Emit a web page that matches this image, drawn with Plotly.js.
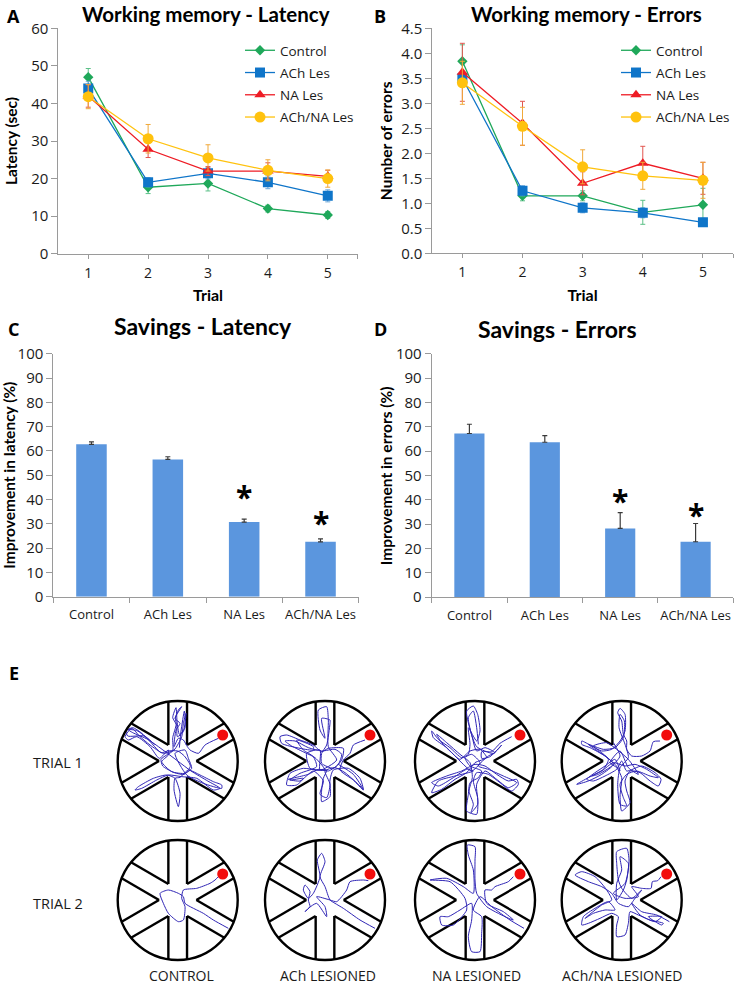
<!DOCTYPE html>
<html><head><meta charset="utf-8">
<script src="https://cdn.plot.ly/plotly-3.0.1.min.js"></script>
<style>html,body{margin:0;padding:0;background:#fff;overflow:hidden}</style></head>
<body><div id="chart" style="width:735px;height:984px"></div>
<script>
const W = 735, H = 984;
const FONT = '"Open Sans", sans-serif';
const HEAD = 'Lato, "Open Sans", sans-serif';
const trials = [1, 2, 3, 4, 5];
const groups = ['Control', 'ACh Les', 'NA Les', 'ACh/NA Les'];
const colors = ['#1fa85a', '#0f75c9', '#ee1c25', '#ffc20e'];
const errColors = ['#5cc088', '#6aa6d8', '#e2564f', '#f0a93a'];
const symbols = ['diamond', 'square', 'triangle-up', 'circle'];
const sizes = [8, 10, 10, 11];

const latControl = [47, 17.7, 18.7, 12, 10.3];
const latACh = [44, 19, 21.4, 19, 15.4];
const latNA = [42, 27.8, 22, 22, 20.6];
const latBoth = [41.8, 30.6, 25.5, 22.2, 20];
const latControlErr = [2.3, 1.7, 2, 0.9, 0.9];
const latAChErr = [1.9, 1.2, 1.5, 1.7, 1.6];
const latNAErr = [3, 2.2, 1.2, 2.2, 1.6];
const latBothErr = [3.2, 3.8, 3.5, 2.8, 2.3];

const errControl = [3.84, 1.15, 1.15, 0.82, 0.97];
const errACh = [3.5, 1.25, 0.91, 0.81, 0.62];
const errNA = [3.62, 2.6, 1.4, 1.8, 1.5];
const errBoth = [3.41, 2.54, 1.73, 1.55, 1.46];
const errControlErr = [0.33, 0.1, 0.1, 0.24, 0.33];
const errAChErr = [0.1, 0.1, 0.1, 0.1, 0.08];
const errNAErr = [0.58, 0.44, 0.23, 0.34, 0.32];
const errBothErr = [0.43, 0.38, 0.34, 0.27, 0.36];

const saveLat = [62.7, 56.5, 30.7, 22.6];
const saveLatErr = [1, 1.1, 1.2, 1.2];
const saveErr = [67.2, 63.6, 28.2, 22.7];
const saveErrErr = [3.8, 2.7, 6.5, 7.5];

// Maze geometry, in tracking units with the maze radius at 180
const mazeR = 180;
const foodXY = [135, 78];
const wallSegments = [
  [[28, 48], [28, 178]], [[28, 48], [140, 113]],
  [[56, 0], [168, 65]], [[56, 0], [168, -65]],
  [[28, -48], [28, -178]], [[28, -48], [140, -113]],
  [[-28, 48], [-28, 178]], [[-28, 48], [-140, 113]],
  [[-56, 0], [-168, 65]], [[-56, 0], [-168, -65]],
  [[-28, -48], [-28, -178]], [[-28, -48], [-140, -113]]
];

const pathCtrl1 = [[122,68],[82,48],[62,23],[37,33],[29,43],[17,63],[2,68],[-11,43],[-5,93],[7,113],[-8,128],[12,163],[2,153],[-7,128],[-3,108],[-1,73],[17,88],[25,143],[17,113],[12,73],[-11,33],[-43,23],[-83,48],[-113,73],[-138,98],[-158,73],[-148,63],[-123,73],[-83,43],[-55,8],[-28,33],[-28,18],[-48,-2],[-18,-32],[22,-37],[42,-22],[32,8],[22,33],[-8,23],[27,-42],[77,-67],[132,-82],[132,-72],[107,-62],[67,-42],[32,-27],[7,-49],[-8,-52],[-11,-87],[2,-137],[7,-97],[-8,-52],[-33,-42],[-73,-52],[-118,-77],[-128,-87],[-108,-82],[-63,-57],[-28,-42],[12,-47],[57,-52],[107,-87],[127,-82],[90,-60],[40,-30],[0,0],[-40,30],[-90,65],[-135,85],[-150,95],[-120,90],[-70,50],[-100,75],[-150,75],[-155,90],[-135,100],[-110,85],[-80,55],[-50,25],[-30,30],[0,30],[20,15],[38,-15],[20,-40],[-10,-35],[-45,-15],[-50,5],[-30,20],[-15,30],[-15,70],[-5,110],[-15,130],[-5,160],[-2,120],[5,80],[22,100],[20,150],[10,90],[5,40]];
const pathACh1 = [[120,63],[85,48],[75,23],[55,3],[45,-27],[85,-57],[115,-87],[105,-52],[70,-22],[25,-27],[15,-57],[15,-107],[-10,-122],[-10,-87],[-5,-52],[5,-27],[-25,-27],[-65,-22],[-105,-37],[-115,-72],[-85,-72],[-65,-52],[-105,-57],[-75,-37],[-25,-17],[-35,13],[-65,33],[-85,63],[-35,43],[-35,33],[-75,38],[-130,53],[-135,73],[-115,78],[-75,63],[-35,48],[-10,28],[10,38],[55,38],[50,3],[25,-22],[-10,-7],[-10,23],[5,48],[15,113],[15,123],[-10,128],[0,68],[-15,93],[-20,153],[5,163],[10,123],[10,43],[35,3],[-15,-27],[-15,33],[-55,23],[-45,-22],[0,-27],[-30,10],[-60,25],[-100,45],[-120,60],[-90,60],[-50,40],[-10,30],[30,35],[50,20],[40,-10],[10,-30],[-20,-25],[-50,-40],[-90,-50],[-110,-55],[-75,-60],[-35,-30],[-5,-60],[-15,-100],[5,-110],[15,-70],[0,-30],[30,-20],[60,-35],[100,-70],[115,-85],[85,-40],[40,-10]];
const pathNA1 = [[110,73],[75,53],[50,28],[20,28],[20,8],[45,13],[80,48],[55,23],[5,43],[-15,95],[-25,150],[-5,165],[8,140],[15,90],[5,60],[-20,100],[-15,50],[-20,20],[-40,10],[-75,40],[-110,65],[-130,90],[-125,70],[-85,40],[-55,10],[-35,-10],[-10,-30],[15,-5],[-10,20],[-30,10],[-15,-15],[20,-30],[10,-50],[-15,-65],[-20,-100],[-25,-150],[5,-160],[8,-110],[-5,-60],[5,-35],[40,-40],[75,-65],[110,-90],[130,-70],[125,-55],[100,-60],[65,-40],[30,-15],[0,-10],[-40,-30],[-85,-45],[-130,-65],[-110,-75],[-65,-50],[-25,-25],[-5,-30],[-60,-45],[-110,-60],[-130,-95],[-100,-85],[-60,-55],[-25,-35],[0,-5],[35,10],[15,35],[-15,30],[-45,5],[-70,25],[-100,55],[-115,80],[-85,55],[-45,20],[-15,-5],[-8,-50],[-18,-90],[-5,-130],[-12,-155],[8,-130],[5,-70],[30,-30],[65,-55],[100,-80],[125,-65],[85,-45],[40,-25],[10,-15],[40,15],[60,25],[30,40],[5,30],[-8,70],[-20,130],[-5,150],[5,100],[10,50]];
const pathBoth1 = [[115,60],[95,58],[85,30],[60,15],[30,15],[15,35],[15,60],[5,80],[0,120],[-12,145],[-5,158],[10,140],[10,90],[-5,60],[-30,35],[-60,30],[-90,45],[-120,60],[-120,50],[-95,40],[-50,15],[-20,-10],[-5,-30],[-20,5],[-50,-15],[-80,-35],[-105,-55],[-85,-60],[-50,-45],[-15,-25],[0,0],[15,-30],[60,-15],[100,-35],[118,-55],[110,-75],[85,-60],[55,-35],[25,-30],[10,-60],[15,-90],[25,-125],[0,-150],[-5,-105],[0,-50],[-15,-20],[-35,-5],[-5,30],[20,-20],[50,-40],[20,5],[-15,35],[-45,55],[-85,45],[-60,25],[-25,-10],[-60,-40],[-100,-60],[-135,-70],[-100,-50],[-60,-30],[-25,-5],[10,-15],[40,-10],[75,-25],[110,-50],[85,-45],[45,-30],[15,-40],[-5,-70],[5,-110],[15,-135],[-5,-130],[-12,-70],[-5,-20],[20,10],[10,50],[-8,100],[-5,140],[8,120],[5,70],[-20,40],[-55,35],[-100,50],[-80,35],[-40,5],[-55,-25],[-90,-45],[-70,-40],[-30,-15],[-5,15],[-25,55]];
const pathCtrl2 = [[152,-85],[107,-60],[77,-40],[22,-10],[17,10],[2,20],[-28,30],[-53,20],[-43,-10],[-28,-40],[2,-65],[17,-60],[22,-20],[12,5],[17,30],[57,35],[97,50],[112,60],[127,75]];
const pathACh2 = [[150,-85],[105,-60],[55,-25],[30,-10],[15,0],[0,40],[-15,70],[0,115],[-10,140],[-23,120],[-15,70],[-35,20],[-50,5],[-65,30],[-60,45],[-45,25],[-50,0],[-45,-20],[-60,-35],[-50,-25],[-25,-10],[5,-50],[0,-20],[-25,10],[15,0],[35,-5],[65,30],[75,55],[115,60],[130,58]];
const pathNA2 = [[147,-85],[105,-60],[50,-20],[15,10],[-5,-30],[20,-50],[20,-100],[15,-155],[-10,-155],[-20,-110],[-10,-60],[-10,-10],[-45,-30],[-80,-50],[-105,-50],[-100,-75],[-65,-75],[-25,-30],[-30,5],[-75,55],[-135,60],[-85,65],[-35,40],[-5,20],[-5,90],[-20,135],[-23,165],[0,160],[0,120],[0,60],[5,20],[35,-20],[90,-50],[115,-60],[85,-35],[35,-10],[30,30],[50,30],[60,40],[100,55],[115,70]];
const pathBoth2 = [[143,-65],[105,-45],[60,-35],[30,-10],[55,-45],[100,-65],[120,-50],[80,-50],[120,-75],[125,-70],[85,-60],[50,-45],[25,-35],[20,-70],[10,-105],[-15,-110],[-15,-75],[-10,-50],[-30,-40],[-65,-55],[-100,-70],[-120,-75],[-115,-50],[-80,-25],[-40,-5],[-20,-30],[-50,-30],[-85,-40],[-110,-55],[-60,-15],[-30,0],[-45,30],[-80,70],[-120,85],[-140,75],[-100,55],[-60,40],[-30,20],[-10,-10],[20,-20],[40,5],[60,30],[30,5],[0,35],[-10,60],[-15,110],[-15,145],[15,155],[22,120],[15,60],[5,30],[-15,0],[-15,50],[0,90],[-5,130],[20,110],[10,50],[-25,20],[10,5],[50,10],[30,40],[60,35],[88,35],[92,55],[108,58],[118,70]];
const mazePaths = [pathCtrl1, pathACh1, pathNA1, pathBoth1, pathCtrl2, pathACh2, pathNA2, pathBoth2];
const mazeCols = [177.7, 325, 475, 621.7];
const mazeRows = [761, 900];
const colLabels = ['CONTROL', 'ACh LESIONED', 'NA LESIONED', 'ACh/NA LESIONED'];
const colLabelX = [181, 328, 476, 622];

const fx = px => px / W, fy = py => 1 - py / H;
const AXC = '#9a9a9a', TXT = '#1a1a1a';
const traces = [], annotations = [], shapes = [];
const layout = {
  width: W, height: H, margin: {l: 0, r: 0, t: 0, b: 0, autoexpand: false}, showlegend: true,
  paper_bgcolor: '#fff', plot_bgcolor: 'rgba(0,0,0,0)', font: {family: FONT, color: TXT},
  annotations, shapes
};

function yAxisCfg(top, bot, range, dtick, title, xa, fmt, standoff) {
  const ax = {
    domain: [fy(bot), fy(top)], range, dtick, tick0: 0, anchor: xa, showgrid: false, zeroline: false,
    showline: true, linecolor: AXC, linewidth: 1, ticks: 'outside', ticklen: 6, tickcolor: AXC, tickwidth: 1,
    tickformat: fmt, tickfont: {size: 15, family: FONT, color: TXT}, automargin: false
  };
  if (title) ax.title = {text: '<b>' + title + '</b>', font: {size: 15.5, family: HEAD, color: '#000'}, standoff};
  return ax;
}
function lineXAxis(x0, x1, ya) {
  return {
    domain: [fx(x0), fx(x1)], range: [0.5, 5.5], anchor: ya, showgrid: false, zeroline: false,
    tickmode: 'array', tickvals: [1, 2, 3, 4, 5, 5.5], ticktext: ['1', '2', '3', '4', '5', ''],
    showline: true, linecolor: AXC, linewidth: 1, ticks: 'outside', ticklen: 4, tickcolor: AXC,
    ticklabelstandoff: 2, tickfont: {size: 14, family: FONT, color: TXT},
    title: {text: '<b>Trial</b>', font: {size: 16, family: HEAD, color: '#000'}, standoff: 9}
  };
}
function barXAxis(x0, x1, ya) {
  return {
    domain: [fx(x0), fx(x1)], type: 'category', categoryorder: 'array', categoryarray: groups,
    range: [-0.5, 3.5], anchor: ya, showgrid: false, zeroline: false, tickson: 'boundaries', tickangle: 0,
    showline: true, linecolor: AXC, linewidth: 1, ticks: 'outside', ticklen: 5, tickcolor: AXC,
    ticklabelstandoff: 6, tickfont: {size: 13, family: FONT, color: TXT}
  };
}

// Panels A and B
layout.xaxis = lineXAxis(58.3, 357.7, 'y');
layout.yaxis = yAxisCfg(28.3, 253.7, [0, 60], 10, 'Latency (sec)', 'x', '', 9);
layout.xaxis2 = lineXAxis(432.3, 733, 'y2');
layout.yaxis2 = yAxisCfg(28.3, 253.3, [0, 4.5], 0.5, 'Number of errors', 'x2', '.1f', 4);

[[latControl, latACh, latNA, latBoth], [errControl, errACh, errNA, errBoth]].forEach((set, p) => {
  const errs = p === 0 ? [latControlErr, latAChErr, latNAErr, latBothErr] : [errControlErr, errAChErr, errNAErr, errBothErr];
  set.forEach((vals, i) => traces.push({
    type: 'scatter', mode: 'lines+markers', x: trials, y: vals, name: groups[i],
    xaxis: p ? 'x2' : 'x', yaxis: p ? 'y2' : 'y', legend: p ? 'legend2' : 'legend', legendgroup: 'p' + p + i,
    line: {color: colors[i], width: 1.3},
    marker: {color: colors[i], symbol: symbols[i], size: sizes[i]},
    error_y: {type: 'data', array: errs[i], color: errColors[i], thickness: 1, width: 2.5},
    hoverinfo: 'skip'
  }));
});
const legendCfg = (x, y) => ({
  x: fx(x), y: fy(y), xanchor: 'left', yanchor: 'top', bgcolor: 'rgba(0,0,0,0)', tracegroupgap: 1.7,
  font: {size: 13.5, family: FONT, color: TXT}, itemwidth: 30, borderwidth: 0,
  entrywidthmode: 'pixels', entrywidth: 76
});
layout.legend = legendCfg(240, 35);
layout.legend2 = legendCfg(616, 35);

// Panels C and D
layout.xaxis3 = barXAxis(53.3, 358.7, 'y3');
layout.yaxis3 = yAxisCfg(353.7, 596.7, [0, 100], 10, 'Improvement in latency (%)', 'x3', '', 3);
layout.xaxis4 = barXAxis(431.7, 733.3, 'y4');
layout.yaxis4 = yAxisCfg(353.7, 597, [0, 100], 10, null, 'x4', '', 0);
annotations.push({
  xref: 'paper', yref: 'paper', x: fx(386.7), y: fy(475.5), text: '<b>Improvement in errors (%)</b>', textangle: -90,
  showarrow: false, xanchor: 'center', yanchor: 'middle', font: {size: 15.5, family: HEAD, color: '#000'}
});
[[saveLat, saveLatErr, 'x3', 'y3'], [saveErr, saveErrErr, 'x4', 'y4']].forEach(([v, e, xa, ya]) => traces.push({
  type: 'bar', x: groups, y: v, width: 0.4, xaxis: xa, yaxis: ya, showlegend: false,
  marker: {color: '#5b96de'},
  error_y: {type: 'data', array: e, symmetric: false, arrayminus: e.map(() => 0), color: '#3a3a3a', thickness: 1.2, width: 2.5},
  hoverinfo: 'skip'
}));
const stars = [['x3', 'y3', 'NA Les', 41.2], ['x3', 'y3', 'ACh/NA Les', 30.4], ['x4', 'y4', 'NA Les', 39.5], ['x4', 'y4', 'ACh/NA Les', 33.9]];
stars.forEach(([xa, ya, c, v]) => annotations.push({
  xref: xa, yref: ya, x: c, y: v, text: '<b>*</b>', showarrow: false, yanchor: 'middle',
  font: {size: 30, family: FONT, color: '#000'}
}));

// Panel text
const titles = [['Working memory - Latency', 206, 14, 20.5], ['Working memory - Errors', 586, 14, 20.5], ['Savings - Latency', 203, 326, 23], ['Savings - Errors', 557.7, 329, 23]];
titles.forEach(([t, x, y, s]) => annotations.push({
  xref: 'paper', yref: 'paper', x: fx(x), y: fy(y), text: '<b>' + t + '</b>', showarrow: false,
  xanchor: 'center', yanchor: 'middle', font: {size: s, family: HEAD, color: '#000'}
}));
const panelLetters = [['A', 13, 16], ['B', 380, 16], ['C', 13, 329], ['D', 380, 329], ['E', 14, 673]];
panelLetters.forEach(([t, x, y]) => annotations.push({
  xref: 'paper', yref: 'paper', x: fx(x), y: fy(y), text: '<b>' + t + '</b>', showarrow: false,
  xanchor: 'center', yanchor: 'middle', font: {size: 18, family: FONT, color: '#000'}
}));
[['TRIAL 1', 762], ['TRIAL 2', 903]].forEach(([t, y]) => annotations.push({
  xref: 'paper', yref: 'paper', x: fx(33), y: fy(y), text: t, showarrow: false,
  xanchor: 'left', yanchor: 'middle', xshift: -2, font: {size: 14.5, family: FONT, color: TXT}
}));
colLabels.forEach((t, i) => annotations.push({
  xref: 'paper', yref: 'paper', x: fx(colLabelX[i]), y: fy(975), text: t, showarrow: false,
  xanchor: 'center', yanchor: 'middle', font: {size: 14, family: FONT, color: TXT}
}));

// Panel E mazes
const span = 200, halfPx = span / 3;
mazePaths.forEach((path, k) => {
  const idx = k + 5, cx = mazeCols[k % 4], cy = mazeRows[Math.floor(k / 4)];
  const xn = 'x' + idx, yn = 'y' + idx;
  const hidden = {visible: false, range: [-span, span], fixedrange: true};
  layout['xaxis' + idx] = {...hidden, domain: [fx(cx - halfPx), fx(cx + halfPx)], anchor: yn};
  layout['yaxis' + idx] = {...hidden, domain: [fy(cy + halfPx), fy(cy - halfPx)], anchor: xn};
  shapes.push({type: 'circle', xref: xn, yref: yn, x0: -mazeR, x1: mazeR, y0: -mazeR, y1: mazeR, line: {color: '#000', width: 2.4}});
  const wx = [], wy = [];
  wallSegments.forEach(s => { wx.push(s[0][0], s[1][0], null); wy.push(s[0][1], s[1][1], null); });
  traces.push({type: 'scatter', mode: 'lines', x: wx, y: wy, xaxis: xn, yaxis: yn, showlegend: false, hoverinfo: 'skip', line: {color: '#000', width: 2.4}});
  traces.push({type: 'scatter', mode: 'lines', x: path.map(d => d[0]), y: path.map(d => d[1]), xaxis: xn, yaxis: yn, showlegend: false, hoverinfo: 'skip', line: {color: '#2f25b5', width: 1, shape: 'spline', smoothing: 0.6}});
  traces.push({type: 'scatter', mode: 'markers', x: [foodXY[0]], y: [foodXY[1]], xaxis: xn, yaxis: yn, showlegend: false, hoverinfo: 'skip', marker: {color: '#f20d0d', size: 11}});
});

Plotly.newPlot('chart', traces, layout, {displayModeBar: false, staticPlot: true});
</script></body></html>
